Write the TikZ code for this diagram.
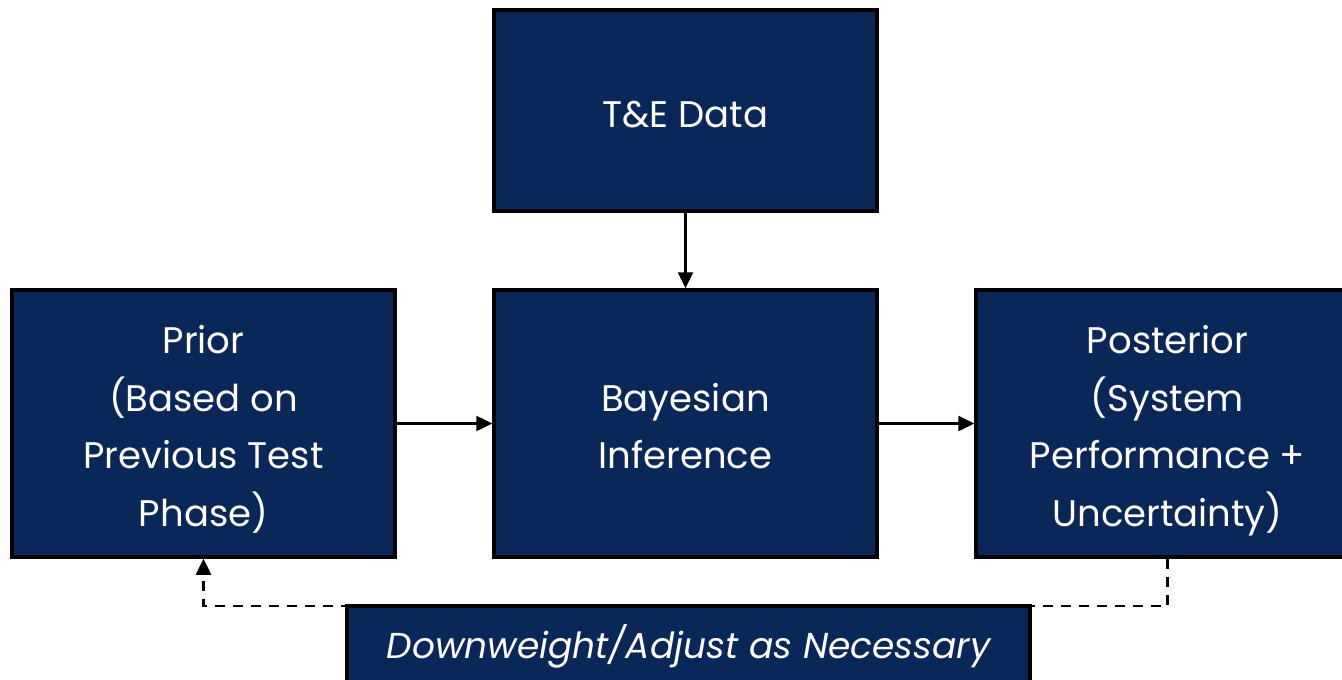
\documentclass[tikz,border=0pt]{standalone}
\usepackage{fontspec}
\setmainfont{Poppins}
\usetikzlibrary{arrows.meta}
\definecolor{navy}{RGB}{10,39,90}
\newcommand{\boxlines}[1]{\raisebox{-5pt}[\height][\depth]{\begin{tabular}{@{}c@{}}#1\end{tabular}}}
\tikzset{
  box/.style={draw=black, line width=3.5pt, fill=navy, text=white, align=center,
    minimum width=383pt, inner sep=0pt, font=\fontsize{37}{57.5}\selectfont},
  conn/.style={line width=2.5pt, -{Triangle[width=15pt,length=16pt]}},
  fb/.style={line width=2.5pt, dash pattern=on 10pt off 8pt, -{Triangle[width=15pt,length=16pt]}}
}
\begin{document}
\begin{tikzpicture}[x=1pt,y=-1pt]
\useasboundingbox (0,0) rectangle (1342,680);
\clip (0,0) rectangle (1342,680);
\node[box, minimum height=201pt] (te) at (685.5,110.5) {\boxlines{T\&E Data}};
\node[box, minimum height=267pt] (bayes) at (685.5,423.5) {\boxlines{Bayesian\\Inference}};
\node[box, minimum height=267pt] (prior) at (203.5,423.5) {\boxlines{Prior\\(Based on\\Previous Test\\Phase)}};
\node[box, minimum height=267pt] (post) at (1167.5,423.5) {\boxlines{Posterior\\(System\\Performance +\\Uncertainty)}};
\coordinate (turn) at (1167.5,606);
\draw[fb] (post.south) -- (turn) -| (prior.south);
\node[box, minimum width=683pt, minimum height=80pt, font=\fontsize{36}{50}\selectfont] (adj) at (688.5,646) {\itshape Downweight/Adjust as Necessary};
\draw[conn] (te.south) -- (bayes.north);
\draw[conn] (prior.east) -- (bayes.west);
\draw[conn] (bayes.east) -- (post.west);
\end{tikzpicture}
\end{document}
